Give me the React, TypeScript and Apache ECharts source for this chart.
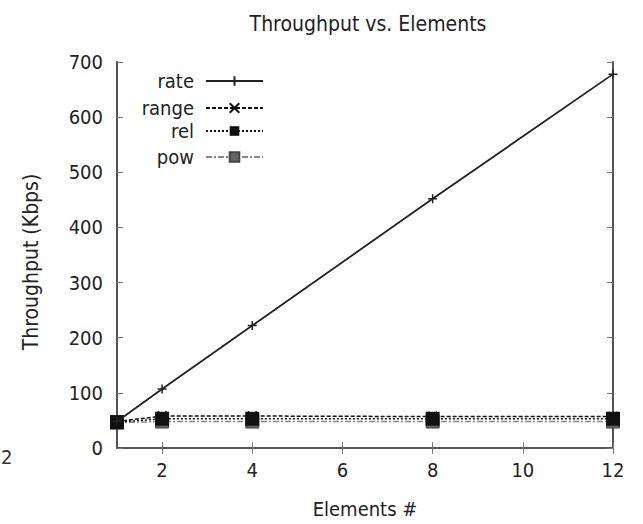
import React, { useEffect, useRef } from "react";
import * as echarts from "echarts";

const elements = [1, 2, 4, 8, 12];
const rate = [48, 107, 222, 452, 678];
const range = [48, 58, 58, 57, 57];
const rel = [47, 53, 53, 53, 53];
const pow = [46, 48, 48, 48, 48];
const xTicks = [2, 4, 6, 8, 10, 12];
const seriesNames = ["rate", "range", "rel", "pow"];

const FONT = "'DejaVu Sans Condensed', 'Liberation Sans Narrow', sans-serif";
const PLUS = "path://M0,5L10,5M5,0L5,10";
const CROSS = "path://M0,0L10,10M10,0L0,10";
const TXT = "#222";

export default function App() {
  const ref = useRef<HTMLDivElement>(null);
  useEffect(() => {
    const chart = echarts.init(ref.current!, undefined, { renderer: "svg" });
    const pair = (ys: number[]) => elements.map((x, i) => [x, ys[i]]);
    const legendRight = 643 - 264;
    const legendTops = [71, 98, 121, 147];
    chart.setOption({
      animation: false,
      backgroundColor: "#fff",
      title: {
        text: "Throughput vs. Elements",
        left: 363,
        textAlign: "center",
        top: 8,
        textStyle: { fontFamily: FONT, fontSize: 21, fontWeight: "normal", color: TXT },
      },
      legend: seriesNames.map((n, i) => ({
        data: [n],
        orient: "vertical",
        align: "right",
        right: legendRight,
        top: legendTops[i],
        itemWidth: 57,
        itemHeight: 12,
        itemGap: 6,
        padding: 0,
        selectedMode: false,
        textStyle: { fontFamily: FONT, fontSize: 20, lineHeight: 20, color: TXT, padding: [0, 7, 0, 0] },
      })),
      grid: { left: 117, right: 30, top: 62, bottom: 76 },
      xAxis: [
        {
          type: "value",
          min: 1,
          max: 12,
          name: "Elements #",
          nameLocation: "middle",
          nameGap: 51,
          nameTextStyle: { fontFamily: FONT, fontSize: 20, color: TXT },
          axisLine: { show: true, lineStyle: { color: "#555", width: 2 } },
          axisTick: { show: true, inside: true, length: 6, customValues: xTicks, lineStyle: { color: "#777" } },
          axisLabel: { customValues: xTicks, margin: 12, fontFamily: FONT, fontSize: 20, color: TXT },
          splitLine: { show: false },
        },
        {
          type: "value",
          position: "top",
          min: 1,
          max: 12,
          axisLine: { show: true, lineStyle: { color: "#555", width: 2 } },
          axisTick: { show: true, inside: true, length: 6, customValues: xTicks, lineStyle: { color: "#777" } },
          axisLabel: { show: false },
          splitLine: { show: false },
        },
      ],
      yAxis: [
        {
          type: "value",
          min: 0,
          max: 700,
          interval: 100,
          name: "Throughput (Kbps)",
          nameLocation: "middle",
          nameRotate: 90,
          nameGap: 76,
          nameTextStyle: { fontFamily: FONT, fontSize: 21, color: TXT, padding: [0, 14, 0, 0] },
          axisLine: { show: true, lineStyle: { color: "#555", width: 2 } },
          axisTick: { show: true, inside: true, length: 6, lineStyle: { color: "#777" } },
          axisLabel: { margin: 14, fontFamily: FONT, fontSize: 20, color: TXT },
          splitLine: { show: false },
        },
        {
          type: "value",
          position: "right",
          min: 0,
          max: 700,
          interval: 100,
          axisLine: { show: true, lineStyle: { color: "#555", width: 2 } },
          axisTick: { show: true, inside: true, length: 6, lineStyle: { color: "#777" } },
          axisLabel: { show: false },
          splitLine: { show: false },
        },
      ],
      series: [
        {
          name: "rate",
          type: "line",
          data: pair(rate),
          symbol: PLUS,
          symbolSize: 9,
          lineStyle: { color: "#222", width: 1.8, type: "solid" },
          itemStyle: { color: "none", borderColor: "#222", borderWidth: 1.5 },
          z: 5,
        },
        {
          name: "range",
          type: "line",
          data: pair(range),
          symbol: CROSS,
          symbolSize: 9,
          lineStyle: { color: "#111", width: 1.5, type: [4, 2] },
          itemStyle: { color: "none", borderColor: "#111", borderWidth: 2 },
          z: 4,
        },
        {
          name: "rel",
          type: "line",
          data: pair(rel),
          symbol: "rect",
          symbolSize: 14,
          lineStyle: { color: "#111", width: 1.5, type: [2, 2] },
          itemStyle: { color: "#111", borderWidth: 0 },
          z: 3,
        },
        {
          name: "pow",
          type: "line",
          data: pair(pow),
          symbol: "rect",
          symbolSize: 13,
          lineStyle: { color: "#888", width: 1.5, type: [6, 2, 2, 2] },
          itemStyle: { color: "#666", borderColor: "#444", borderWidth: 1 },
          z: 2,
        },
      ],
      graphic: [
        {
          type: "text",
          left: 1,
          top: 447,
          style: { text: "2", fontFamily: FONT, fontSize: 20, fill: "#333" },
        },
      ],
    });
    return () => chart.dispose();
  }, []);
  return (
    <div
      ref={ref}
      style={{ position: "fixed", left: 0, top: 0, width: 643, height: 524 }}
    />
  );
}
